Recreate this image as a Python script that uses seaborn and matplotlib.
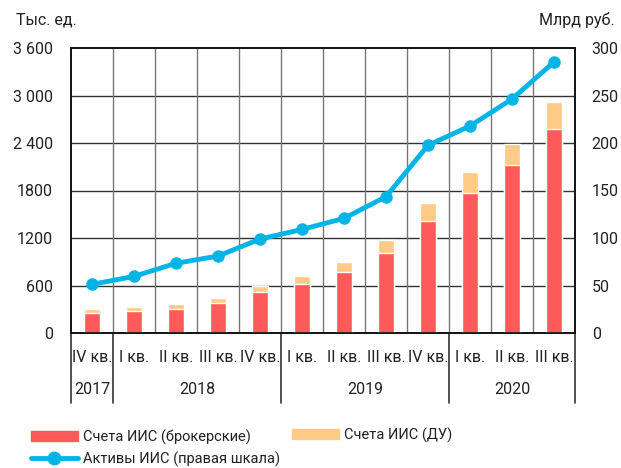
import numpy as np
import pandas as pd
import matplotlib.pyplot as plt
import seaborn as sns
from matplotlib.lines import Line2D
from matplotlib.patches import Patch

# data
quarters = ["IV кв.", "I кв.", "II кв.", "III кв.", "IV кв.", "I кв.", "II кв.",
            "III кв.", "IV кв.", "I кв.", "II кв.", "III кв."]
years = ["2017", "2018", "2019", "2020"]
year_spans = [(0, 1), (1, 5), (5, 9), (9, 12)]
broker = [256, 282, 303, 375, 514, 623, 770, 1014, 1418, 1768, 2122, 2577]
du = [47, 46, 63, 71, 80, 97, 127, 161, 228, 266, 265, 337]
assets = [51.2, 59.6, 73.4, 81.0, 98.9, 109.0, 120.7, 143.5, 197.6, 217.9, 246.3, 285.3]

red = "#FF5A5A"
orange = "#FFCB87"
blue = "#00B5E6"
txt = "#222222"

sns.set_theme(style="white")
plt.rcParams['font.family'] = ['Roboto', 'DejaVu Sans']
fs = 11.5

df = pd.DataFrame({"q": [f"{i}" for i in range(12)], "broker": broker,
                   "total": np.array(broker) + np.array(du), "assets": assets})

fig = plt.figure(figsize=(6.21, 4.68), dpi=100)
ax = fig.add_axes([71 / 621, 135 / 468, 504 / 621, 285 / 468])

# stacked bars: total (orange) behind, brokerage (red) in front
sns.barplot(data=df, x="q", y="total", color=orange, width=0.4, saturation=1, ax=ax, zorder=3)
sns.barplot(data=df, x="q", y="broker", color=red, width=0.4, saturation=1, ax=ax, zorder=4)

ax.set_xlim(-0.5, 11.5)
ax.set_ylim(0, 3600)
ax.set_yticks(np.arange(0, 3601, 600))
ax.set_yticklabels(["0", "600", "1200", "1800", "2 400", "3 000", "3 600"])
ax.set_xticks(np.arange(12))
ax.set_xticklabels(quarters)
ax.set_xlabel("")
ax.set_ylabel("")
ax.tick_params(axis="both", length=0, colors=txt, labelsize=fs)
ax.tick_params(axis="x", pad=12)
ax.tick_params(axis="y", pad=13)

# grid
for y in np.arange(600, 3600, 600):
    ax.axhline(y, color="#333333", lw=1, zorder=1)
for x in np.arange(0.5, 11.5, 1):
    ax.axvline(x, color="#777777", lw=1, zorder=1)
for s in ax.spines.values():
    s.set_color("#111111")
    s.set_linewidth(1.2)

# year separators and labels under the axis
for x in [-0.5, 0.5, 4.5, 8.5, 11.5]:
    ax.plot([x, x], [0, -0.245], transform=ax.get_xaxis_transform(),
            color="#333333", lw=1.2, clip_on=False)
for name, (a, b) in zip(years, year_spans):
    ax.text((a + b - 1) / 2, -0.2, name, transform=ax.get_xaxis_transform(),
            ha="center", va="center", color=txt, fontsize=fs)

ax2 = ax.twinx()
sns.lineplot(x=np.arange(12), y=assets, color=blue, lw=3.5, marker="o",
             markersize=9, markeredgewidth=0, ax=ax2, zorder=5)
ax2.set_ylim(0, 300)
ax2.set_yticks(np.arange(0, 301, 50))
ax2.tick_params(axis="y", length=0, colors=txt, labelsize=fs, pad=12)
for s in ax2.spines.values():
    s.set_color("#111111")
    s.set_linewidth(1.2)

fig.text(16 / 621, 1 - 20 / 468, "Тыс. ед.", ha="left", va="center", color=txt, fontsize=fs)
fig.text(615 / 621, 1 - 20 / 468, "Млрд руб.", ha="right", va="center", color=txt, fontsize=fs)

# legend, two blocks placed like the reference
lfs = 10.5
fig.legend([Patch(color=red), Line2D([0], [0], color=blue, lw=3.5, marker="o", markersize=9)],
           ["Счета ИИС (брокерские)", "Активы ИИС (правая шкала)"],
           loc="center left", bbox_to_anchor=(31 / 621, 1 - 448 / 468),
           frameon=False, handlelength=3.2, handleheight=0.7, labelspacing=0.45,
           handletextpad=0.35, borderpad=0, borderaxespad=0, fontsize=lfs, labelcolor=txt)
fig.legend([Patch(color=orange)], ["Счета ИИС (ДУ)"],
           loc="center left", bbox_to_anchor=(292 / 621, 1 - 435 / 468),
           frameon=False, handlelength=3.2, handleheight=0.7,
           handletextpad=0.35, borderpad=0, borderaxespad=0, fontsize=lfs, labelcolor=txt)

fig.savefig("out.png", dpi=100)
